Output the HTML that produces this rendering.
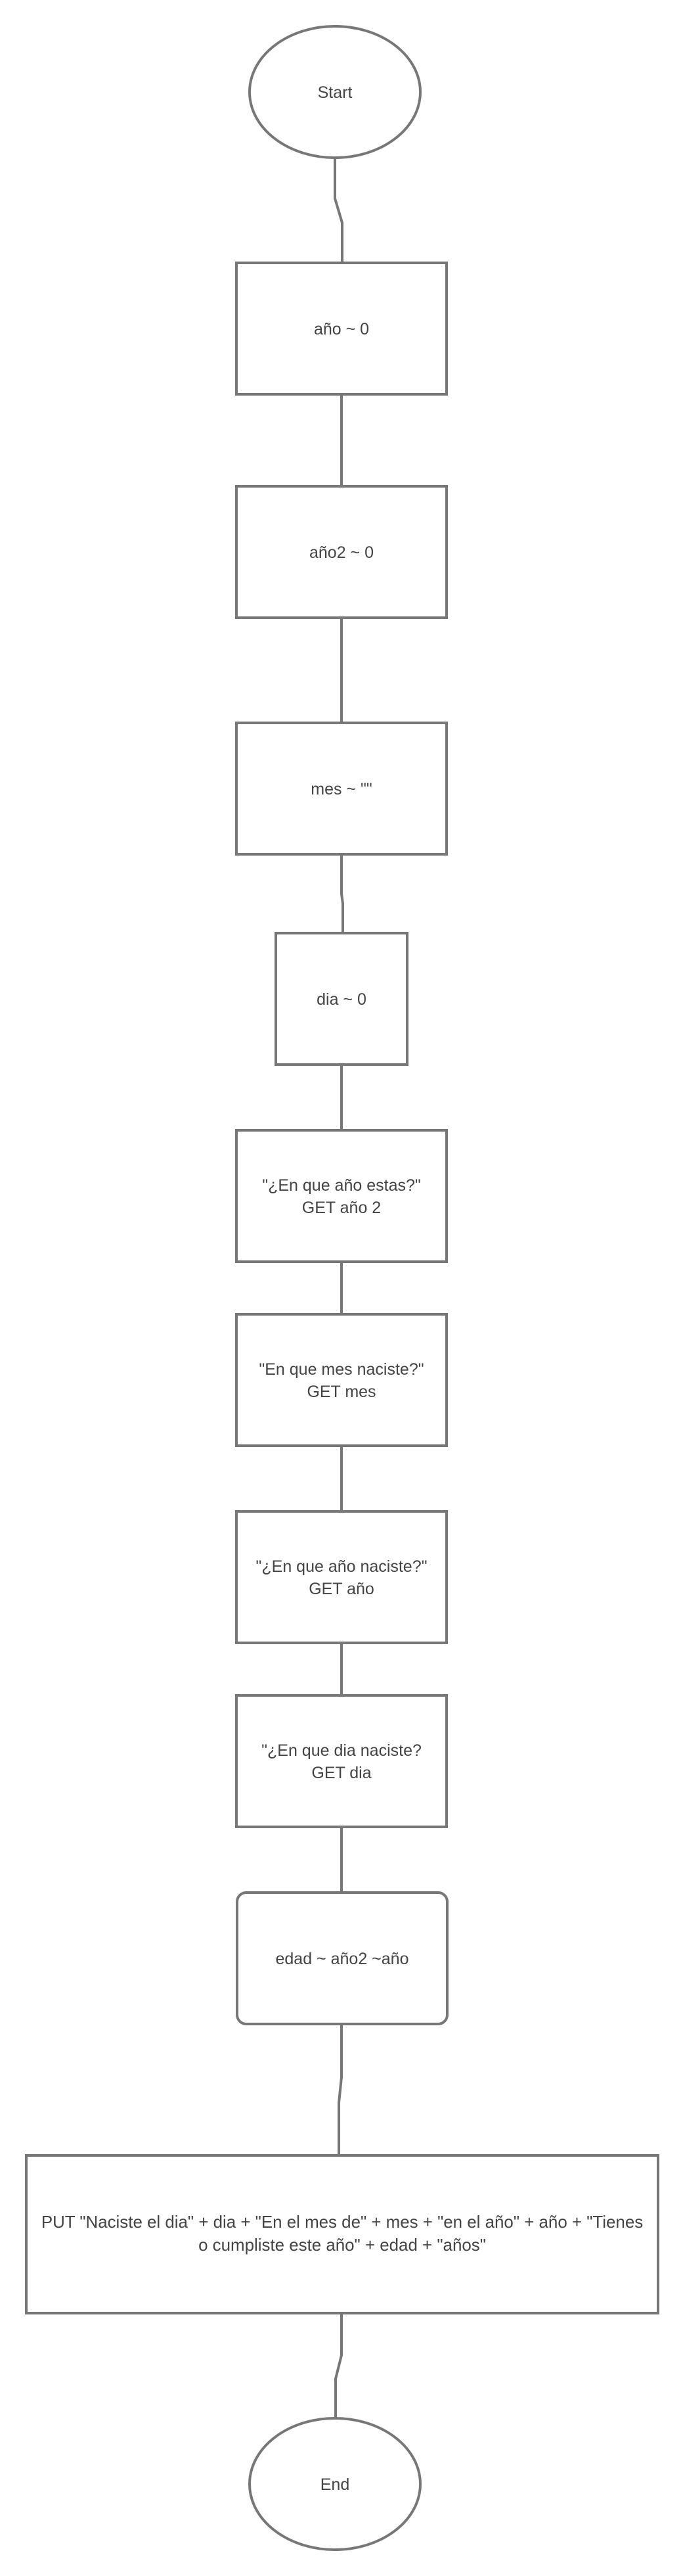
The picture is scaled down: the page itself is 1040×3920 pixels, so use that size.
<!DOCTYPE html>
<html><head><meta charset="utf-8"><style>
html,body{margin:0;padding:0;background:#fff;}
svg{display:block;}
text{font-family:"Liberation Sans",sans-serif;font-size:25px;fill:#444;text-anchor:middle;}
</style></head><body>
<svg width="1040" height="3920" viewBox="0 0 1040 3920" xmlns="http://www.w3.org/2000/svg">
<g fill="none" stroke="#777" stroke-width="4">
<ellipse cx="510" cy="140" rx="130" ry="100" fill="#fff"/>
<path d="M510 240 V302 L521 339 V400"/>
<rect x="360" y="400" width="320" height="200"/>
<path d="M520 600 V740"/>
<rect x="360" y="740" width="320" height="200"/>
<path d="M520 940 V1100"/>
<rect x="360" y="1100" width="320" height="200"/>
<path d="M520 1300 V1360 L522 1375 V1420"/>
<rect x="420" y="1420" width="200" height="200"/>
<path d="M520 1620 V1720"/>
<rect x="360" y="1720" width="320" height="200"/>
<path d="M520 1920 V2000"/>
<rect x="360" y="2000" width="320" height="200"/>
<path d="M520 2200 V2300"/>
<rect x="360" y="2300" width="320" height="200"/>
<path d="M520 2500 V2580"/>
<rect x="360" y="2580" width="320" height="200"/>
<path d="M520 2780 V2880"/>
<rect x="361" y="2880" width="320" height="200" rx="14"/>
<path d="M520 3080 V3161 L516 3200 V3280"/>
<rect x="40" y="3280" width="962" height="240"/>
<path d="M520 3520 V3584 L511 3620 V3680"/>
<ellipse cx="510" cy="3780" rx="130" ry="100"/>
</g>
<text x="510" y="149">Start</text>
<text x="520" y="509">año ~ 0</text>
<text x="520" y="849">año2 ~ 0</text>
<text x="520" y="1209">mes ~ ""</text>
<text x="520" y="1529">dia ~ 0</text>
<text x="520" y="1812">"¿En que año estas?"</text>
<text x="520" y="1846">GET año 2</text>
<text x="520" y="2092">"En que mes naciste?"</text>
<text x="520" y="2126">GET mes</text>
<text x="520" y="2392">"¿En que año naciste?"</text>
<text x="520" y="2426">GET año</text>
<text x="520" y="2672">"¿En que dia naciste?</text>
<text x="520" y="2706">GET dia</text>
<text x="521" y="2989">edad ~ año2 ~año</text>
<text x="521" y="3390" style="font-size:25.9px">PUT "Naciste el dia" + dia + "En el mes de" + mes + "en el año" + año + "Tienes</text>
<text x="521" y="3425" style="font-size:25.9px">o cumpliste este año" + edad + "años"</text>
<text x="510" y="3789">End</text>
</svg>
</body></html>
